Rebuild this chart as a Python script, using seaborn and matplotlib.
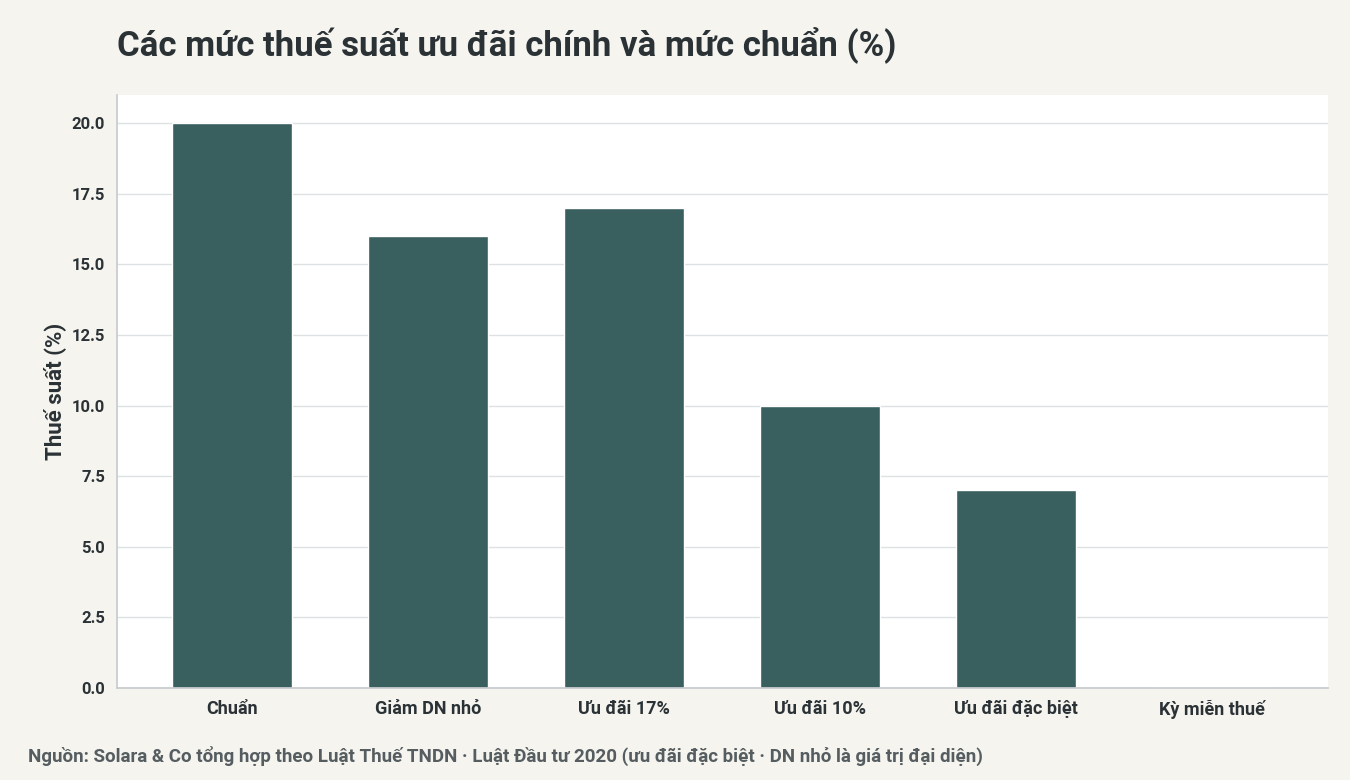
import matplotlib
matplotlib.use("Agg")
import matplotlib.pyplot as plt
import seaborn as sns
import pandas as pd

categories = ["Chuẩn", "Giảm DN nhỏ", "Ưu đãi 17%", "Ưu đãi 10%", "Ưu đãi đặc biệt", "Kỳ miễn thuế"]
rates = [20, 16, 17, 10, 7, 0]
yticks = [0, 2.5, 5, 7.5, 10, 12.5, 15, 17.5, 20]

sns.set_theme(style="white")
plt.rcParams["font.family"] = ["Roboto", "Open Sans", "DejaVu Sans"]
txt = "#2b3236"

fig = plt.figure(figsize=(13.5, 7.8), dpi=100, facecolor="#f5f4ef")
ax = fig.add_axes([117/1350, 1-688/780, (1328-117)/1350, (688-95)/780])
ax.set_facecolor("white")
df = pd.DataFrame({"cat": categories, "rate": rates})
sns.barplot(data=df, x="cat", y="rate", color="#3a5f5f", saturation=1, width=0.61, ax=ax)
ax.set_xlim(-0.587, 5.59)
ax.set_ylim(0, 21)
ax.set_yticks(yticks)
ax.set_yticklabels([f"{v:.1f}" for v in yticks], fontsize=12, fontweight="bold", color=txt)
ax.set_xticks(range(len(categories)))
ax.set_xticklabels(categories, fontsize=13, fontweight="bold", color=txt)
ax.grid(axis="y", color="#dde1e3", linewidth=1)
ax.set_axisbelow(True)
for s in ["top", "right"]:
    ax.spines[s].set_visible(False)
for s in ["left", "bottom"]:
    ax.spines[s].set_color("#c8cccf")
ax.tick_params(axis="both", length=5, color="#c8cccf")
ax.set_xlabel("")
ax.set_ylabel("Thuế suất (%)", fontsize=16, fontweight="bold", color=txt)
fig.text(117/1350, 1-45/780, "Các mức thuế suất ưu đãi chính và mức chuẩn (%)", fontsize=25,
         fontweight="bold", color=txt, va="center")
fig.text(28/1350, 1-756/780, "Nguồn: Solara & Co tổng hợp theo Luật Thuế TNDN · Luật Đầu tư 2020 (ưu đãi đặc biệt · DN nhỏ là giá trị đại diện)",
         fontsize=13.5, fontweight="bold", color="#555d60", va="center")
fig.savefig("out.png", dpi=100, facecolor=fig.get_facecolor())
